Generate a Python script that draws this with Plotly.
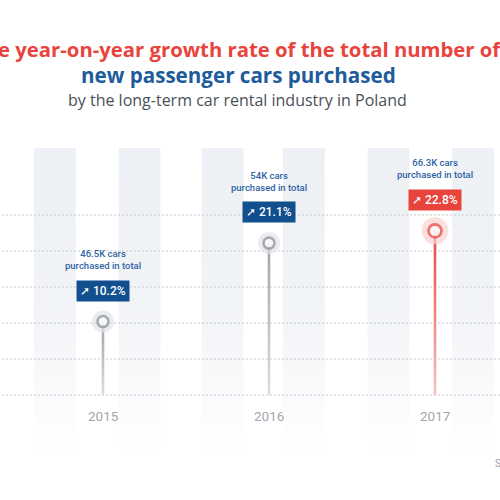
import plotly.graph_objects as go

# ---- data ----
years = [2015, 2016, 2017]
growth = [10.2, 21.1, 22.8]              # YoY growth, %
cars_total = ["46.5K", "54K", "66.3K"]   # cars purchased in total
year_labels = ["2015", "2016", "2017"]
grid_values = [0, 5, 10, 15, 20, 25]
band_centers = [2014.71, 2015.22, 2015.72, 2016.21, 2016.72, 2017.23]

title_red = "The year-on-year growth rate of the total number of"
title_blue = "new passenger cars purchased"
subtitle = "by the long-term car rental industry in Poland"
source = "Source: PZWLP"

RED = "#e8443c"
BLUE_TITLE = "#1d5b9b"
BOX_BLUE = "#114f8e"
TXT_BLUE = "#2f64a3"

fig = go.Figure()

# background bands with vertical gradient
band_w = 0.126
for c in band_centers:
    fig.add_trace(go.Scatter(
        x=[c - band_w, c + band_w, c + band_w, c - band_w, c - band_w],
        y=[34.3, 34.3, -8, -8, 34.3],
        mode="lines", line=dict(width=0), fill="toself",
        fillgradient=dict(type="vertical",
                          colorscale=[[0, "rgba(255,255,255,1)"], [0.45, "#f2f4f7"], [1, "#edf0f4"]]),
        hoverinfo="skip", showlegend=False))

# dotted grid lines as traces (above bands)
for g in grid_values:
    fig.add_trace(go.Scatter(
        x=[2014.2, 2017.6], y=[g, g], mode="lines",
        line=dict(color="#c3c7ce", width=1, dash="2px,2px"),
        hoverinfo="skip", showlegend=False))

# stems with gradient
stem_w = 0.0078
for i, (yr, v) in enumerate(zip(years, growth)):
    hi = i == len(years) - 1
    top = RED if hi else "#9fa3ab"
    bot = "#f6c4c1" if hi else "#dcdee2"
    fig.add_trace(go.Scatter(
        x=[yr - stem_w, yr + stem_w, yr + stem_w, yr - stem_w, yr - stem_w],
        y=[v, v, 0, 0, v], mode="lines", line=dict(width=0), fill="toself",
        fillgradient=dict(type="vertical", colorscale=[[0, bot], [1, top]]),
        hoverinfo="skip", showlegend=False))

# halos
halo_col = ["#e2e4e8"] * (len(years) - 1) + ["#fad3d1"]
halo_size = [22] * (len(years) - 1) + [27]
fig.add_trace(go.Scatter(x=years, y=growth, mode="markers",
                         marker=dict(size=halo_size, color=halo_col, line=dict(width=0)),
                         hoverinfo="skip", showlegend=False))
# rings
ring_col = ["#8a8e96"] * (len(years) - 1) + [RED]
ring_size = [11] * (len(years) - 1) + [13]
fig.add_trace(go.Scatter(x=years, y=growth, mode="markers",
                         marker=dict(size=ring_size, color="white",
                                     line=dict(width=2.6, color=ring_col)),
                         hoverinfo="skip", showlegend=False))

ann = []
for i, (yr, v) in enumerate(zip(years, growth)):
    hi = i == len(years) - 1
    ann.append(dict(x=yr, y=v, xref="x", yref="y", yshift=31, yanchor="middle",
                    text="➚ " + f"{v:.1f}%", showarrow=False,
                    font=dict(family="Roboto", size=12, color="white", weight=500),
                    bgcolor=RED if hi else BOX_BLUE, borderpad=3))
    ann.append(dict(x=yr, y=v, xref="x", yref="y", yshift=62, yanchor="middle",
                    text=f"{cars_total[i]} cars<br>purchased in total", showarrow=False,
                    font=dict(family="Roboto", size=9.5, color=TXT_BLUE, weight=500)))
    ann.append(dict(x=yr, y=0, xref="x", yref="y", yshift=-21, yanchor="middle",
                    text=year_labels[i], showarrow=False,
                    font=dict(family="Roboto", size=13.5, color="#a2a6ad")))

ann.append(dict(x=1.006, y=1 - 49 / 500, xref="paper", yref="paper", xanchor="right",
                yanchor="middle", text=title_red, showarrow=False,
                font=dict(family="Open Sans", size=20.3, color=RED, weight=700)))
ann.append(dict(x=0.476, y=1 - 75 / 500, xref="paper", yref="paper", xanchor="center",
                yanchor="middle", text=title_blue, showarrow=False,
                font=dict(family="Open Sans", size=20.6, color=BLUE_TITLE, weight=700)))
ann.append(dict(x=0.475, y=1 - 100 / 500, xref="paper", yref="paper", xanchor="center",
                yanchor="middle", text=subtitle, showarrow=False,
                font=dict(family="Open Sans", size=16, color="#4b5058")))
ann.append(dict(x=0.986, y=1 - 463 / 500, xref="paper", yref="paper", xanchor="left",
                yanchor="middle", text=source, showarrow=False,
                font=dict(family="Roboto", size=10, color="#9aa0a8")))

fig.update_layout(
    width=500, height=500, margin=dict(l=0, r=0, t=0, b=0),
    paper_bgcolor="white", plot_bgcolor="white",
    xaxis=dict(range=[2014.3795, 2017.3916], visible=False),
    yaxis=dict(range=[-14.58, 54.86], visible=False),
    annotations=ann, showlegend=False,
)

fig.write_html("out.html", config={"displayModeBar": False},
               post_script="document.body.style.margin='0px';")
